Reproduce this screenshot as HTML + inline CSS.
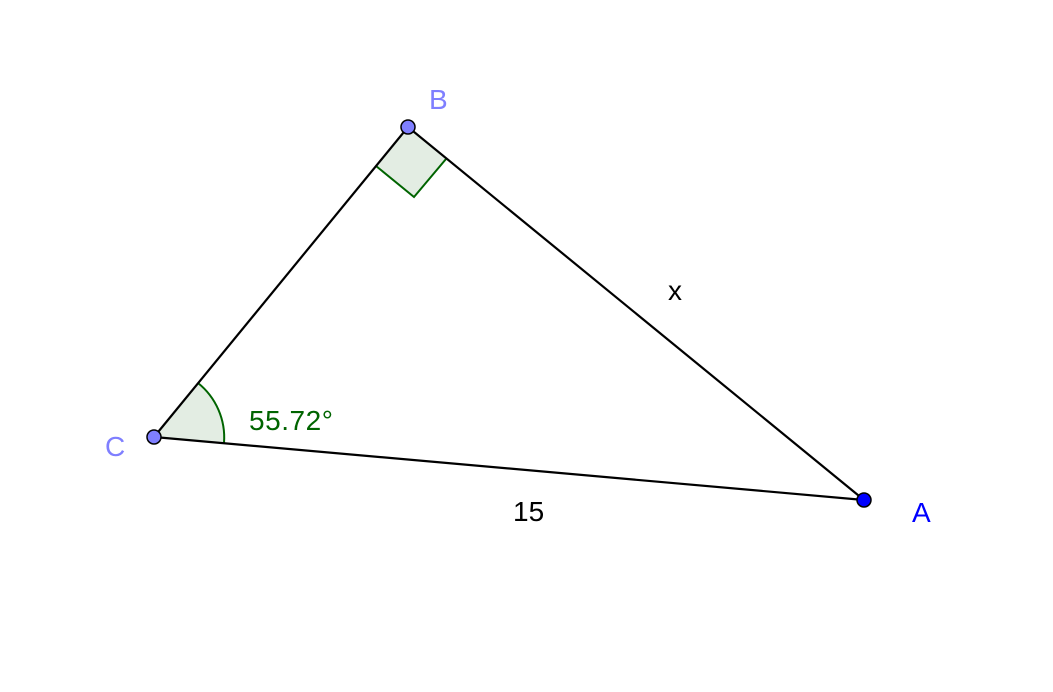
<!DOCTYPE html>
<html><head><style>html,body{margin:0;padding:0;background:#fff;}</style></head>
<body>
<svg width="1053" height="692" xmlns="http://www.w3.org/2000/svg" style="display:block">
<rect width="1053" height="692" fill="#fff"/>
<path d="M154,437 L224,443 A70,70 0 0 0 198,383 Z" fill="#e3ede3" stroke="none"/>
<path d="M224,443 A70,70 0 0 0 198,383" fill="none" stroke="#006400" stroke-width="2"/>
<polygon points="408,127 376,166 414,197 446,159" fill="#e3ede3" stroke="none"/>
<polyline points="376,166 414,197 446,159" fill="none" stroke="#006400" stroke-width="2"/>
<g stroke="#000" stroke-width="2.2" fill="none">
<line x1="154" y1="437" x2="408" y2="127"/>
<line x1="408" y1="127" x2="864" y2="500"/>
<line x1="154" y1="437" x2="864" y2="500"/>
</g>
<circle cx="408" cy="127" r="7" fill="#7f7fff" stroke="#000" stroke-width="1.5"/>
<circle cx="154" cy="437" r="7" fill="#7f7fff" stroke="#000" stroke-width="1.5"/>
<circle cx="864" cy="500" r="7" fill="#0000ff" stroke="#000" stroke-width="1.5"/>
<g font-family="Liberation Sans, sans-serif" font-size="28">
<text x="429" y="109" fill="#7f7fff">B</text>
<text x="105" y="456" fill="#7f7fff">C</text>
<text x="912" y="522" fill="#0000ff">A</text>
<text x="668" y="300" fill="#000">x</text>
<text x="513" y="521" fill="#000">15</text>
<text x="249" y="430" fill="#006400" textLength="84">55.72°</text>
</g>
</svg>
</body></html>
